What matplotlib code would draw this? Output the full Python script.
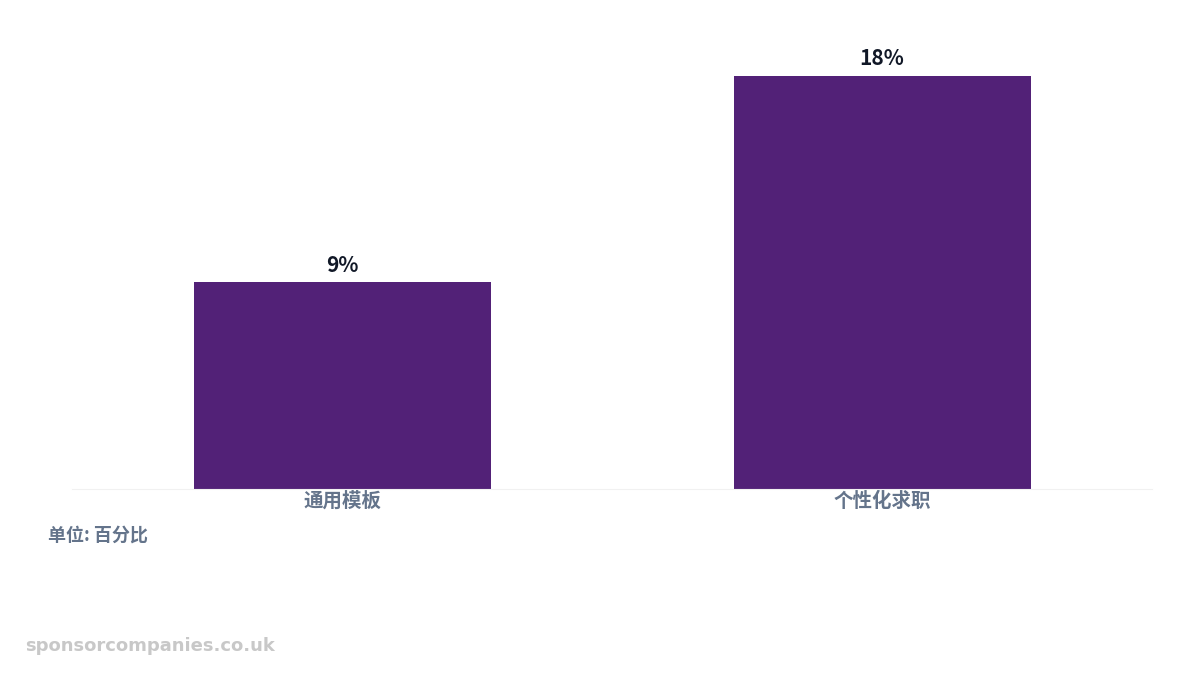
import matplotlib
matplotlib.use("Agg")
import matplotlib.pyplot as plt

categories = ["通用模板", "个性化求职"]
values = [9, 18]
labels = ["9%", "18%"]

plt.rcParams['font.family'] = ['Noto Sans CJK SC', 'DejaVu Sans']
fig = plt.figure(figsize=(12, 6.75), dpi=100)
ax = fig.add_axes([0.06, 489/675 and (675-489)/675, 1080/1200, (489-30)/675])
bars = ax.bar(range(len(categories)), values, width=0.55, color="#522177")
ax.set_xlim(-0.5, 1.5)
ax.set_ylim(0, 20)
for i, (v, l) in enumerate(zip(values, labels)):
    ax.text(i, v + 0.3, l, ha="center", va="bottom", fontsize=15, fontweight="bold", color="#111827")
ax.set_xticks(range(len(categories)))
ax.set_xticklabels(categories, fontsize=14, fontweight="bold", color="#64748b")
ax.tick_params(axis="x", length=0, pad=2)
ax.set_yticks([])
for s in ["top", "right", "left"]:
    ax.spines[s].set_visible(False)
ax.spines["bottom"].set_color("#f1f1f1")
fig.text(48/1200, 1-535/675, "单位: 百分比", fontsize=13, fontweight="bold", color="#64748b", va="center")
fig.text(25/1200, 1-646/675, "sponsorcompanies.co.uk", fontsize=13, fontweight="bold", color="#c8c8c8", va="center", family="DejaVu Sans")
fig.savefig("out.png", dpi=100)
